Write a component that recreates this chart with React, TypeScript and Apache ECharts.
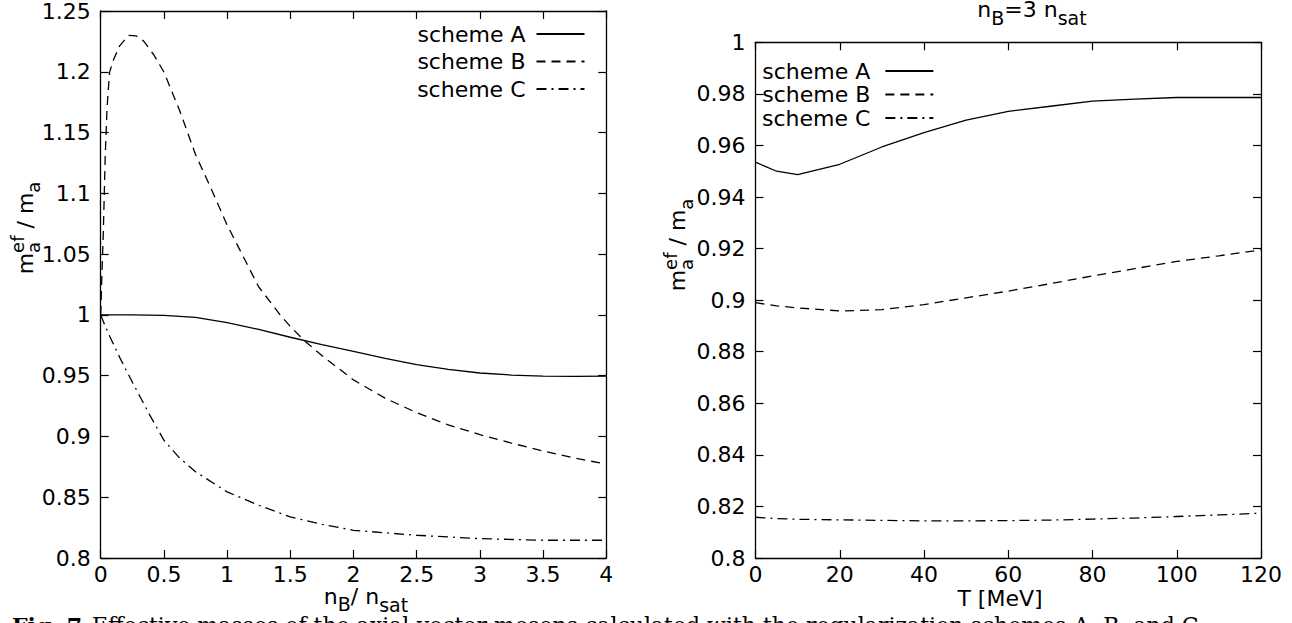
import React, { useEffect, useRef } from "react";
import * as echarts from "echarts";

// ---------- data ----------
const schemeNames = ["scheme A", "scheme B", "scheme C"];

// left panel: m_a^ef / m_a versus n_B / n_sat
const leftNbA = [0, 0.25, 0.5, 0.75, 1.0, 1.25, 1.5, 1.75, 2.0, 2.25, 2.5, 2.75, 3.0, 3.25, 3.5, 3.75, 4.0];
const leftEffA = [1.0, 1.0, 0.9996, 0.998, 0.9937, 0.988, 0.9816, 0.9755, 0.9700, 0.9643, 0.9590, 0.9552, 0.9522, 0.9505, 0.9497, 0.9494, 0.9496];

const leftNbB = [0, 0.01, 0.02, 0.035, 0.05, 0.07, 0.1, 0.15, 0.22, 0.28, 0.34, 0.42, 0.5, 0.625, 0.75, 0.875, 1.0, 1.25, 1.42, 1.5, 1.62, 1.75, 2.0, 2.25, 2.5, 2.75, 3.0, 3.25, 3.5, 3.75, 4.0];
const leftEffB = [1.0, 1.035, 1.065, 1.128, 1.17, 1.1995, 1.2096, 1.2213, 1.23, 1.2296, 1.2252, 1.214, 1.1998, 1.168, 1.132, 1.1035, 1.074, 1.023, 1.0, 0.9905, 0.978, 0.9665, 0.9465, 0.9315, 0.9195, 0.9095, 0.9015, 0.8945, 0.888, 0.8822, 0.8772];

const leftNbC = [0, 0.035, 0.073, 0.155, 0.254, 0.386, 0.5, 0.617, 0.75, 1.0, 1.25, 1.5, 1.75, 2.0, 2.5, 3.0, 3.5, 4.0];
const leftEffC = [1.0, 0.991, 0.982, 0.964, 0.944, 0.918, 0.897, 0.883, 0.871, 0.8544, 0.8434, 0.8338, 0.8277, 0.8228, 0.8187, 0.8159, 0.8146, 0.8146];

// right panel: m_a^ef / m_a versus T [MeV] at n_B = 3 n_sat
const rightT = [0, 5, 10, 20, 30, 40, 50, 60, 70, 80, 90, 100, 110, 120];
const rightEffA = [0.9535, 0.9500, 0.9487, 0.9527, 0.9594, 0.9650, 0.9698, 0.9732, 0.9752, 0.9772, 0.9780, 0.9786, 0.9786, 0.9786];
const rightEffB = [0.8990, 0.8978, 0.8970, 0.8958, 0.8963, 0.8983, 0.9009, 0.9035, 0.9064, 0.9094, 0.9122, 0.9150, 0.9172, 0.9195];
const rightEffC = [0.8158, 0.8153, 0.8150, 0.8148, 0.8146, 0.8144, 0.8144, 0.8145, 0.8147, 0.8151, 0.8155, 0.8161, 0.8167, 0.8174];

// axis ranges / tick steps
const leftX = { min: 0, max: 4, interval: 0.5 };
const leftY = { min: 0.8, max: 1.25, interval: 0.05 };
const rightX = { min: 0, max: 120, interval: 20 };
const rightY = { min: 0.8, max: 1.0, interval: 0.02 };

const captionBold = "Fig. 7";
const captionText = "Effective masses of the axial-vector mesons calculated with the regularization schemes A, B, and C";

// ---------- styling ----------
const SANS = '"DejaVu Sans", sans-serif';
const SERIF = '"DejaVu Serif", serif';
const dashTypes: any[] = ["solid", [9, 6], [10, 5, 2, 5]];

let measureCtx: CanvasRenderingContext2D | null = null;
function measure(t: string, size: number, family: string, weight = "normal"): number {
  if (!measureCtx) measureCtx = document.createElement("canvas").getContext("2d");
  if (!measureCtx) return t.length * size * 0.6;
  measureCtx.font = `${weight} ${size}px ${family}`;
  return measureCtx.measureText(t).width;
}

type Seg = { t: string; size: number; shift: number; stack?: boolean };

// text with sub/superscripts; origin = centre of run, on main baseline
function mathLabel(segs: Seg[], x: number, y: number, rotation: number) {
  const widths = segs.map((s) => measure(s.t, s.size, SANS));
  const xs: number[] = [];
  let pos = 0;
  let i = 0;
  while (i < segs.length) {
    if (segs[i].stack && i + 1 < segs.length) {
      xs[i] = pos;
      xs[i + 1] = pos;
      pos += Math.max(widths[i], widths[i + 1]);
      i += 2;
    } else {
      xs[i] = pos;
      pos += widths[i];
      i += 1;
    }
  }
  const total = pos;
  return {
    type: "group",
    x,
    y,
    rotation,
    silent: true,
    children: segs.map((s, k) => ({
      type: "text",
      x: xs[k] - total / 2,
      y: s.shift - 0.33 * s.size,
      style: {
        text: s.t,
        fontSize: s.size,
        fontFamily: SANS,
        fill: "#000",
        align: "left",
        verticalAlign: "middle",
      },
    })),
  };
}

const M = 22; // main label size
const S = 18; // sub/superscript size
const yLabelSegs: Seg[] = [
  { t: "m", size: M, shift: 0 },
  { t: "a", size: S, shift: 7, stack: true },
  { t: "ef", size: S, shift: -9 },
  { t: " / m", size: M, shift: 0 },
  { t: "a", size: S, shift: 7 },
];
const nbLabelSegs: Seg[] = [
  { t: "n", size: M, shift: 0 },
  { t: "B", size: S + 1, shift: 6 },
  { t: "/ n", size: M, shift: 0 },
  { t: "sat", size: S + 1, shift: 7 },
];
const titleSegs: Seg[] = [
  { t: "n", size: M, shift: 0 },
  { t: "B", size: S + 1, shift: 7 },
  { t: "=3 n", size: M, shift: 0 },
  { t: "sat", size: S + 1, shift: 7 },
];
const tLabelSegs: Seg[] = [{ t: "T [MeV]", size: M, shift: 0 }];

const fmt = (v: number) => String(Math.round(v * 1000) / 1000);

function xAxisDef(gridIndex: number, r: any, position: "top" | "bottom") {
  return {
    type: "value",
    gridIndex,
    position,
    min: r.min,
    max: r.max,
    interval: r.interval,
    axisLine: { show: true, onZero: false, lineStyle: { color: "#000", width: 1.3 } },
    axisTick: { show: true, inside: true, length: 8, lineStyle: { color: "#000", width: 1.2 } },
    axisLabel: {
      show: position === "bottom",
      margin: 5,
      fontSize: 22,
      fontFamily: SANS,
      color: "#000",
      formatter: fmt,
    },
    splitLine: { show: false },
  };
}

function yAxisDef(gridIndex: number, r: any, position: "left" | "right") {
  return {
    type: "value",
    gridIndex,
    position,
    min: r.min,
    max: r.max,
    interval: r.interval,
    axisLine: { show: true, onZero: false, lineStyle: { color: "#000", width: 1.3 } },
    axisTick: { show: true, inside: true, length: 8, lineStyle: { color: "#000", width: 1.2 } },
    axisLabel: {
      show: position === "left",
      margin: 10,
      fontSize: 22,
      fontFamily: SANS,
      color: "#000",
      formatter: fmt,
    },
    splitLine: { show: false },
  };
}

function pairs(xs: number[], ys: number[]) {
  return xs.map((x, i) => [x, ys[i]]);
}

function lineSeries(name: string, idx: number, xIdx: number, yIdx: number, data: number[][]) {
  return {
    type: "line",
    name,
    xAxisIndex: xIdx,
    yAxisIndex: yIdx,
    data,
    symbol: "none",
    showSymbol: false,
    smooth: false,
    clip: true,
    silent: true,
    itemStyle: { color: "#000" },
    lineStyle: { color: "#000", width: 1.3, type: dashTypes[idx] },
    emphasis: { disabled: true },
  };
}

function legendDef(pos: any, gap: number, padRight: number) {
  return {
    orient: "vertical",
    align: "right",
    padding: 0,
    itemWidth: 48,
    itemHeight: 10,
    itemGap: gap,
    selectedMode: false,
    data: schemeNames,
    itemStyle: { color: "rgba(0,0,0,0)", borderWidth: 0, opacity: 0 },
    textStyle: {
      fontFamily: SANS,
      fontSize: 22,
      color: "#000",
      lineHeight: 20,
      padding: [0, padRight, 0, 0],
    },
    ...pos,
  };
}

export default function App() {
  const ref = useRef<HTMLDivElement>(null);

  useEffect(() => {
    if (!ref.current) return;
    const chart = echarts.init(ref.current, null, { renderer: "svg" });

    const captionY = 633 - 0.33 * 22;
    const option: any = {
      animation: false,
      backgroundColor: "#fff",
      grid: [
        { left: 100.7, top: 10, width: 505.6, height: 548 },
        { left: 755.5, top: 42.3, width: 505.5, height: 515.7 },
      ],
      xAxis: [
        xAxisDef(0, leftX, "bottom"),
        xAxisDef(0, leftX, "top"),
        xAxisDef(1, rightX, "bottom"),
        xAxisDef(1, rightX, "top"),
      ],
      yAxis: [
        yAxisDef(0, leftY, "left"),
        yAxisDef(0, leftY, "right"),
        yAxisDef(1, rightY, "left"),
        yAxisDef(1, rightY, "right"),
      ],
      legend: [
        legendDef({ right: 1292 - 585.5, top: 23 }, 5.5, 6),
        legendDef({ left: 762, top: 60 }, 1.5, 10),
      ],
      series: [
        lineSeries(schemeNames[0], 0, 0, 0, pairs(leftNbA, leftEffA)),
        lineSeries(schemeNames[1], 1, 0, 0, pairs(leftNbB, leftEffB)),
        lineSeries(schemeNames[2], 2, 0, 0, pairs(leftNbC, leftEffC)),
        lineSeries(schemeNames[0], 0, 2, 2, pairs(rightT, rightEffA)),
        lineSeries(schemeNames[1], 1, 2, 2, pairs(rightT, rightEffB)),
        lineSeries(schemeNames[2], 2, 2, 2, pairs(rightT, rightEffC)),
      ],
      graphic: [
        mathLabel(yLabelSegs, 32.5, 228, Math.PI / 2),
        mathLabel(yLabelSegs, 685, 245, Math.PI / 2),
        mathLabel(nbLabelSegs, 366, 604, 0),
        mathLabel(tLabelSegs, 1000, 606, 0),
        mathLabel(titleSegs, 1032, 17, 0),
        {
          type: "text",
          x: 12,
          y: captionY,
          silent: true,
          style: {
            text: captionBold,
            fontSize: 22,
            fontFamily: SERIF,
            fontWeight: "bold",
            fill: "#000",
            align: "left",
            verticalAlign: "middle",
          },
        },
        {
          type: "text",
          x: 92,
          y: captionY,
          silent: true,
          style: {
            text: captionText,
            fontSize: 22,
            fontFamily: SERIF,
            fill: "#000",
            align: "left",
            verticalAlign: "middle",
          },
        },
      ],
    };

    chart.setOption(option);
    return () => {
      chart.dispose();
    };
  }, []);

  return (
    <div
      ref={ref}
      style={{ position: "fixed", left: 0, top: 0, width: 1292, height: 623, background: "#fff" }}
    />
  );
}
